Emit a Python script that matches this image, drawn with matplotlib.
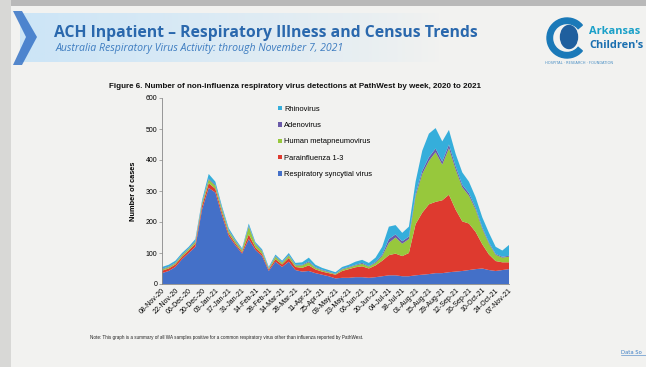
import numpy as np
import matplotlib.pyplot as plt
from matplotlib.patches import Polygon, Wedge, Ellipse, Rectangle

# Weekly PathWest detections, 08-Nov-20 .. 07-Nov-21 (53 weeks)
rsv = [35, 42, 55, 80, 100, 120, 240, 310, 295, 220, 155, 125, 98, 145, 110, 90,
       42, 72, 55, 72, 45, 40, 42, 35, 30, 25, 18, 20, 20, 22, 22, 20, 22, 25,
       28, 28, 25, 25, 28, 30, 32, 35, 35, 38, 40, 42, 45, 48, 50, 45, 42, 45, 48]
parainfluenza = [8, 8, 8, 8, 8, 10, 12, 15, 12, 10, 8, 6, 5, 15, 8, 7, 5, 8, 8,
                 12, 10, 12, 18, 12, 10, 10, 12, 22, 28, 32, 35, 30, 38, 50, 65,
                 70, 65, 75, 165, 200, 225, 230, 235, 250, 200, 160, 150, 120,
                 78, 50, 32, 25, 22]
hmpv = [4, 4, 4, 5, 5, 6, 8, 12, 10, 10, 8, 7, 6, 25, 10, 8, 3, 8, 5, 8, 5, 8,
        10, 5, 4, 3, 2, 5, 5, 6, 8, 6, 8, 15, 40, 52, 40, 45, 90, 125, 140, 160,
        115, 150, 130, 110, 90, 72, 50, 35, 20, 15, 18]
adenovirus = [2, 2, 2, 2, 2, 2, 3, 3, 3, 3, 2, 2, 2, 3, 2, 2, 1, 2, 2, 2, 2, 2,
              3, 2, 2, 2, 1, 2, 2, 2, 3, 2, 3, 5, 12, 10, 8, 8, 8, 10, 12, 12,
              10, 12, 10, 8, 8, 6, 5, 4, 3, 3, 3]
rhinovirus = [6, 6, 6, 5, 5, 7, 7, 15, 10, 7, 7, 5, 4, 7, 5, 5, 4, 5, 5, 6, 6,
              8, 12, 8, 6, 5, 5, 6, 7, 10, 10, 10, 14, 25, 40, 30, 27, 32, 39,
              65, 76, 66, 65, 47, 40, 40, 37, 34, 32, 31, 23, 20, 35]

week_labels = ["08-Nov-20", "22-Nov-20", "06-Dec-20", "20-Dec-20", "03-Jan-21",
               "17-Jan-21", "31-Jan-21", "14-Feb-21", "28-Feb-21", "14-Mar-21",
               "28-Mar-21", "11-Apr-21", "25-Apr-21", "09-May-21", "23-May-21",
               "06-Jun-21", "20-Jun-21", "04-Jul-21", "18-Jul-21", "01-Aug-21",
               "15-Aug-21", "29-Aug-21", "12-Sep-21", "26-Sep-21", "10-Oct-21",
               "24-Oct-21", "07-Nov-21"]

series_names = ["Respiratory syncytial virus", "Parainfluenza 1-3",
                "Human metapneumovirus", "Adenovirus", "Rhinovirus"]
series_colors = ["#4470c8", "#de3a2f", "#97c83c", "#6a5aa8", "#35aedb"]

W, H = 646, 367
fig = plt.figure(figsize=(W / 100, H / 100), dpi=100)
fig.patch.set_facecolor("#f2f2f0")

# slide background drawn in pixel coordinates
bg = fig.add_axes([0, 0, 1, 1])
bg.set_xlim(0, W)
bg.set_ylim(H, 0)
bg.axis("off")
bg.add_patch(Rectangle((0, 0), W, 6, color="#b9b9b9", lw=0))
bg.add_patch(Rectangle((0, 0), 11, H, color="#d8d8d6", lw=0))

# banner gradient behind the heading
grad = np.ones((2, 256, 4))
grad[..., 0] = 0.80
grad[..., 1] = 0.90
grad[..., 2] = 0.97
grad[..., 3] = np.linspace(1, 0, 256) ** 0.8
bg.imshow(grad, extent=(20, 440, 62, 13), aspect="auto", zorder=1)
bg.add_patch(Polygon([(13, 11), (22, 11), (37, 37), (22, 65), (13, 65), (26, 37)],
                     closed=True, color="#2c6cc4", alpha=0.8, lw=0, zorder=2))

bg.text(54, 33, "ACH Inpatient \u2013 Respiratory Illness and Census Trends",
        fontsize=11.3, fontweight="bold", color="#2a68ad", family="Open Sans",
        va="center", zorder=3)
bg.text(56, 49, "Australia Respiratory Virus Activity: through November 7, 2021",
        fontsize=7.6, style="italic", color="#3d7cc0", family="Open Sans",
        va="center", zorder=3)

# hospital logo
bg.add_patch(Wedge((567, 38), 20, 40, 320, width=5.5, color="#1a79b8", zorder=3))
bg.add_patch(Ellipse((569, 37), 17, 23, color="#1f5f9e", zorder=3))
bg.text(589, 32, "Arkansas", fontsize=7.9, fontweight="bold", color="#1aa0c8",
        family="Open Sans", va="center", zorder=3)
bg.text(589, 45, "Children's", fontsize=7.9, fontweight="bold", color="#1a6fb0",
        family="Open Sans", va="center", zorder=3)
bg.text(545, 63, "HOSPITAL \u00b7 RESEARCH \u00b7 FOUNDATION", fontsize=2.6,
        color="#4a8fc4", va="center", zorder=3)

bg.text(295, 87, "Figure 6. Number of non-influenza respiratory virus detections "
        "at PathWest by week, 2020 to 2021", fontsize=5.8, fontweight="bold",
        family="Liberation Sans", ha="center", va="center", color="#111111")
bg.text(90, 337, "Note: This graph is a summary of all WA samples positive for a "
        "common respiratory virus other than influenza reported by PathWest.",
        fontsize=3.35, family="Liberation Sans", va="center", color="#222222")
bg.text(621, 352, "Data So", fontsize=3.8, color="#3b7dc4", va="center")
bg.plot([621, 646], [355, 355], color="#3b7dc4", lw=0.4)

# the stacked area chart
ax = fig.add_axes([162 / W, 1 - 284 / H, (509 - 162) / W, (284 - 98) / H])
ax.set_facecolor("none")
weeks = np.arange(len(rsv))
ax.stackplot(weeks, rsv, parainfluenza, hmpv, adenovirus, rhinovirus,
             colors=series_colors, labels=series_names, lw=0)
ax.set_xlim(0, len(rsv) - 1)
ax.set_ylim(0, 600)
ax.set_yticks(range(0, 601, 100))
ax.set_xticks(weeks[::2])
ax.set_xticklabels(week_labels, rotation=45, ha="right", rotation_mode="anchor")
ax.tick_params(axis="both", labelsize=5, length=2, width=0.5, color="#888888",
               pad=1.5)
ax.tick_params(axis="x", length=0, pad=2)
for lab in ax.get_xticklabels() + ax.get_yticklabels():
    lab.set_family("Liberation Sans")
for side in ("top", "right"):
    ax.spines[side].set_visible(False)
for side in ("left", "bottom"):
    ax.spines[side].set_color("#888888")
    ax.spines[side].set_linewidth(0.6)
ax.set_ylabel("Number of cases", fontsize=5.3, fontweight="bold",
              family="Liberation Sans", labelpad=6)

handles, labels = ax.get_legend_handles_labels()
leg = ax.legend(handles[::-1], labels[::-1], loc="upper left",
                bbox_to_anchor=(0.315, 0.995), frameon=False,
                prop={"family": "Liberation Sans", "size": 5.4},
                handlelength=0.5, handleheight=0.5, handletextpad=0.3,
                labelspacing=1.25)

fig.savefig("out.png", dpi=100)
